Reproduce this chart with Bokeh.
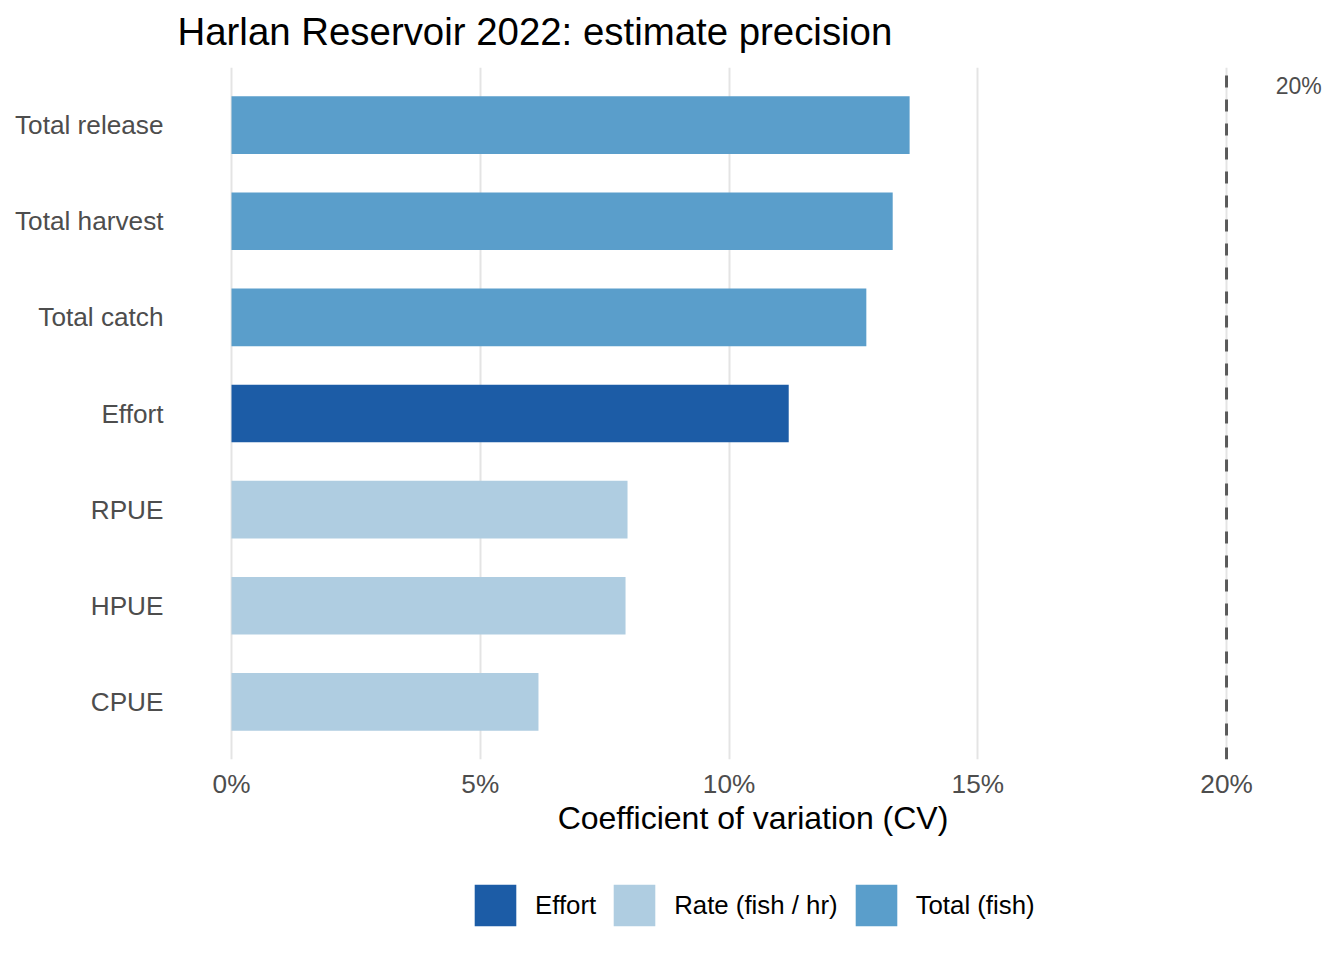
from bokeh.plotting import figure
from bokeh.layouts import column
from bokeh.models import FixedTicker, Legend, LegendItem, ColumnDataSource
from bokeh.core.properties import value
from bokeh.embed import file_html
from bokeh.resources import INLINE

# Estimates, listed bottom to top
estimates = ["CPUE", "HPUE", "RPUE", "Effort", "Total catch", "Total harvest", "Total release"]
groups = ["Rate (fish / hr)", "Rate (fish / hr)", "Rate (fish / hr)", "Effort",
          "Total (fish)", "Total (fish)", "Total (fish)"]
cv_pct = [6.17, 7.92, 7.96, 11.20, 12.76, 13.29, 13.63]

group_order = ["Effort", "Rate (fish / hr)", "Total (fish)"]
group_colors = {"Effort": "#1c5ca6", "Rate (fish / hr)": "#afcde1", "Total (fish)": "#5a9ecb"}

x_ticks = [0, 5, 10, 15, 20]
x_tick_labels = ["0%", "5%", "10%", "15%", "20%"]
target_cv = 20
target_label = "20%"
chart_title = "Harlan Reservoir 2022: estimate precision"

FONT = "Liberation Sans"
LEFT, RIGHT = 172, 11          # space beside the plotting area, px
TITLE_H, LEGEND_H = 67, 92     # heights of the title and legend strips, px
ypos = list(range(1, len(estimates) + 1))

# title strip: data units equal pixels, y counted from the top
tf = figure(width=1344, height=TITLE_H, output_backend="svg", toolbar_location=None,
            x_range=(0, 1344 - LEFT - RIGHT), y_range=(TITLE_H, 0),
            x_axis_type=None, y_axis_type=None, min_border_left=LEFT,
            min_border_right=RIGHT, min_border_top=0, min_border_bottom=0)
tf.outline_line_color = None
tf.grid.visible = False
tf.text(x=[5], y=[31], text=[chart_title], text_font=value(FONT),
        text_font_size="38.4px", text_color="black", text_align="left",
        text_baseline="alphabetic")

# main chart
p = figure(width=1344, height=960 - TITLE_H - LEGEND_H, output_backend="svg",
           toolbar_location=None,
           x_range=(-1.186, 22.15), y_range=(0.4, len(estimates) + 0.6),
           min_border_left=LEFT, min_border_right=RIGHT, min_border_top=0,
           min_border_bottom=109)
p.outline_line_color = None
p.background_fill_color = "white"
p.border_fill_color = "white"

# bars, one renderer per group
for g in group_order:
    idx = [i for i, gg in enumerate(groups) if gg == g]
    src = ColumnDataSource(dict(y=[ypos[i] for i in idx], cv=[cv_pct[i] for i in idx]))
    p.hbar(y="y", left=0, right="cv", height=0.6, source=src,
           fill_color=group_colors[g], line_color=None)

# reference line at the 20% CV target
p.segment(x0=[target_cv], y0=[0.4], x1=[target_cv], y1=[len(estimates) + 0.6],
          line_color="#5a5a5a", line_width=3, line_dash="12 12")
p.text(x=[21.45], y=[7.406], text=[target_label], text_font=value(FONT),
       text_font_size="23px", text_color="#4d4d4d", text_align="center",
       text_baseline="middle")

# axes
p.xaxis.ticker = FixedTicker(ticks=x_ticks)
p.xaxis.major_label_overrides = dict(zip(x_ticks, x_tick_labels))
p.yaxis.ticker = FixedTicker(ticks=ypos)
p.yaxis.major_label_overrides = dict(zip(ypos, estimates))
for ax in (p.xaxis, p.yaxis):
    ax.axis_line_color = None
    ax.major_tick_line_color = None
    ax.minor_tick_line_color = None
    ax.major_label_text_font = FONT
    ax.major_label_text_font_size = "26.2px"
    ax.major_label_text_color = "#4d4d4d"
p.yaxis.major_label_standoff = 3
p.xaxis.major_label_standoff = 3
p.xaxis.axis_label = "Coefficient of variation (CV)"
p.xaxis.axis_label_text_font = FONT
p.xaxis.axis_label_text_font_size = "32px"
p.xaxis.axis_label_text_font_style = "normal"
p.xaxis.axis_label_text_color = "black"
p.xaxis.axis_label_standoff = -2

p.xgrid.ticker = FixedTicker(ticks=x_ticks)
p.xgrid.grid_line_color = "#e4e4e4"
p.xgrid.grid_line_width = 2
p.ygrid.grid_line_color = None

# legend strip under the chart; its swatch renderers have zero extent
lg = figure(width=1344, height=LEGEND_H, output_backend="svg", toolbar_location=None,
            x_range=(0, 1), y_range=(0, 1), x_axis_type=None, y_axis_type=None,
            min_border_left=LEFT, min_border_right=RIGHT, min_border_top=0,
            min_border_bottom=0)
lg.outline_line_color = None
lg.grid.visible = False
items = []
for g in group_order:
    r = lg.hbar(y=[0.5], left=[0.5], right=[0.5], height=0, fill_color=group_colors[g],
                line_color=None)
    items.append(LegendItem(label=g, renderers=[r]))
legend = Legend(items=items, orientation="horizontal", location=(297, 29),
                glyph_width=52, glyph_height=52, label_standoff=14, spacing=12,
                label_text_font=FONT, label_text_font_size="25.8px",
                label_text_color="black", border_line_color=None,
                background_fill_alpha=0, margin=0, padding=0)
lg.add_layout(legend, "center")

page = column(tf, p, lg, spacing=0)
open("out.html", "w").write(file_html(page, INLINE))
